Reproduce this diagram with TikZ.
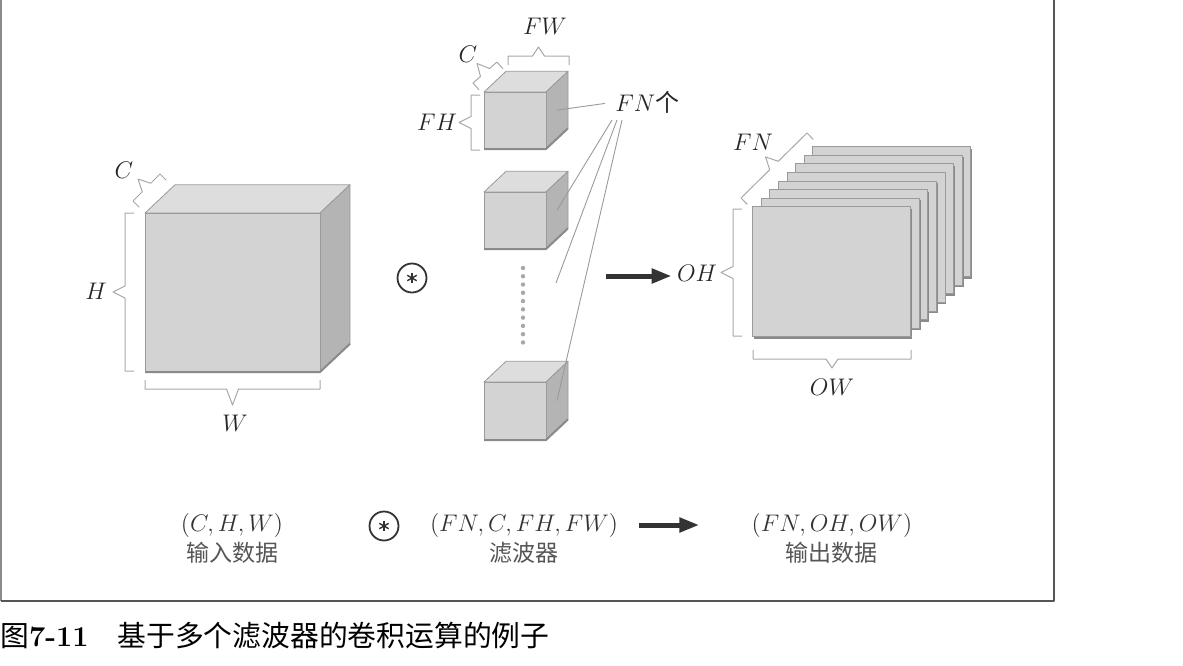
\documentclass[tikz,border=0pt]{standalone}
\usepackage{fontspec}
\newfontfamily\cjk{Noto Sans CJK SC}
\usetikzlibrary{arrows.meta, calc}
\definecolor{cfront}{HTML}{D3D3D3}
\definecolor{ctop}{HTML}{DDDDDD}
\definecolor{cside}{HTML}{B4B4B4}
\definecolor{cedge}{HTML}{9A9A9A}
\definecolor{cshadow}{HTML}{8A8A8A}
\definecolor{cbrace}{HTML}{A8A8A8}
\definecolor{cink}{HTML}{333333}
\definecolor{cgrey}{HTML}{555555}
\tikzset{
  every picture/.style={line join=round},
  lbl/.style={font=\fontsize{12}{14}\selectfont, text=black!85, inner sep=0pt},
  dims/.style={font=\fontsize{12.5}{15}\selectfont, text=cink, inner sep=0pt},
  zh/.style={font=\cjk\fontsize{11.5}{14}\selectfont, text=cgrey, inner sep=0pt},
  dimline/.style={draw=cbrace, line width=0.5pt},
  leader/.style={draw=cedge, line width=0.45pt},
  bigarrow/.style={-{Triangle[length=10pt, width=7pt]}, draw=cink, line width=2.5pt},
  sheet/.style={fill=cfront, draw=cedge, line width=0.4pt},
  conv/.style={circle, draw=cink, line width=0.9pt, minimum size=14.5pt, inner sep=0pt,
    path picture={\foreach \a in {90,30,150}
      \draw[cink, line width=0.7pt] ($(path picture bounding box.center)+(\a:2.7pt)$) -- ($(path picture bounding box.center)+(\a+180:2.7pt)$);}},
}
% #1 name, (#2,#3) front top-left corner, #4 width, #5 height, #6 depth
\newcommand{\cube}[6]{%
  \begin{scope}[shift={(#2,#3)}]
    \filldraw[fill=ctop, draw=cedge, line width=0.4pt] (0,0) -- (#6,{-0.94*#6}) -- ({#4+#6},{-0.94*#6}) -- (#4,0) -- cycle;
    \filldraw[fill=cside, draw=cedge, line width=0.4pt] (#4,0) -- ({#4+#6},{-0.94*#6}) -- ({#4+#6},{#5-0.94*#6}) -- (#4,#5) -- cycle;
    \filldraw[fill=cfront, draw=cedge, line width=0.4pt] (0,0) rectangle (#4,#5);
    \draw[cshadow, line width=1pt] (0,#5) -- (#4,#5) -- ({#4+#6},{#5-0.94*#6});
    \coordinate (#1-side) at ({#4+#6/2},{#5/2-0.47*#6});
  \end{scope}}
% ticks on the left of #2->#3, notch on the right
\newcommand{\dimbrace}[3][6pt]{%
  \draw[dimline] ($(#2)!4.5pt!90:(#3)$) -- (#2)
    -- ($(#2)!0.5!(#3)!3pt!(#2)$) -- ($(#2)!0.5!(#3)!#1!-90:(#3)$)
    -- ($(#2)!0.5!(#3)!3pt!(#3)$) -- (#3) -- ($(#3)!4.5pt!-90:(#2)$);}

\begin{document}
\begin{tikzpicture}[x=0.5pt, y=-0.5pt]
  \useasboundingbox (0,0) rectangle (1183,665);
  % frame
  \draw[cshadow, line width=0.8pt] (0.8,0) -- (0.8,601);
  \draw[cgrey, line width=1.1pt] (0.8,601) -- (1054,601) -- (1054,0);

  % input data
  \cube{inp}{145}{213}{175}{159}{30}
  \dimbrace{160,174}{133,201}
  \dimbrace{125,213}{125,371}
  \dimbrace[8pt]{145,389}{320,389}
  \node[lbl] (cin) at (124,170) {$C$};
  \node[lbl] (hin) at (96,291) {$H$};
  \node[lbl] (win) at (235,423) {$W$};
  \node[conv] (conv1) at (412,278) {};

  % filters
  \cube{f1}{484}{92}{62}{57}{22}
  \cube{f2}{484}{192}{62}{57}{22}
  \cube{f3}{484}{382}{62}{58}{22}
  \foreach \i in {0,...,9}
    \fill[cbrace] (523,{268+\i*8.27}) circle (1.1pt);
  \dimbrace{497,62}{473,83}
  \dimbrace{471,95}{471,150}
  \dimbrace[4.5pt]{569,56}{508,56}
  \node[lbl] (cf) at (468,54) {$C$};
  \node[lbl] (fh) at (437,122) {$FH$};
  \node[lbl] (fw) at (545,26) {$FW$};
  \node[lbl, anchor=west] (fn) at (615,102) {$FN$\cjk 个};
  \coordinate (fb) at (612,120);
  \coordinate (fc) at (617,120);
  \coordinate (fd) at (622,120);
  \coordinate (dotx) at (556,283);
  \draw[leader, shorten <=5pt] (fn.west) -- (f1-side);
  \draw[leader] (fb) -- (f2-side);
  \draw[leader] (fc) -- (dotx);
  \draw[leader] (fd) -- (f3-side);

  % arrow to output
  \node[lbl] (oh) at (697,273) {$OH$};
  \coordinate (a1) at (606,276);
  \draw[bigarrow, shorten >=2.5pt] (a1) -- (a1 -| oh.west);

  % output data
  \foreach \i in {7,...,0} {
    \fill[cshadow] ({754.2+\i*8.57},{208.7-\i*8.57}) rectangle ++(158,130);
    \filldraw[sheet] ({752.7+\i*8.57},{206.7-\i*8.57}) rectangle ++(158,130);
  }
  \dimbrace{807,133}{741,198}
  \dimbrace{733,209}{733,336}
  \dimbrace[4.5pt]{753,359}{911,359}
  \node[lbl] (fno) at (753,142) {$FN$};
  \node[lbl] (ow) at (832,387) {$OW$};

  % shapes
  \node[dims] (sin) at (232,525) {$(C, H, W)$};
  \node[zh] (zin) at (232,553) {输入数据};
  \node[conv] (conv2) at (384,526) {};
  \node[dims] (sf) at (524,525) {$(FN, C, FH, FW)$};
  \node[zh] (zf) at (524,553) {滤波器};
  \node[dims] (sout) at (832,525) {$(FN, OH, OW)$};
  \node[zh] (zout) at (831,553) {输出数据};
  \draw[bigarrow] ($(sf.east)+(21,0)$) -- ($(sout.west)+(-52,0)$);

  % caption
  \node[anchor=west, inner sep=0pt, font=\fontsize{14.4}{16}\selectfont] (cap) at (0,636)
    {{\cjk 图}\textbf{7-11}\hspace{1em}{\cjk 基于多个滤波器的卷积运算的例子}};
\end{tikzpicture}
\end{document}
